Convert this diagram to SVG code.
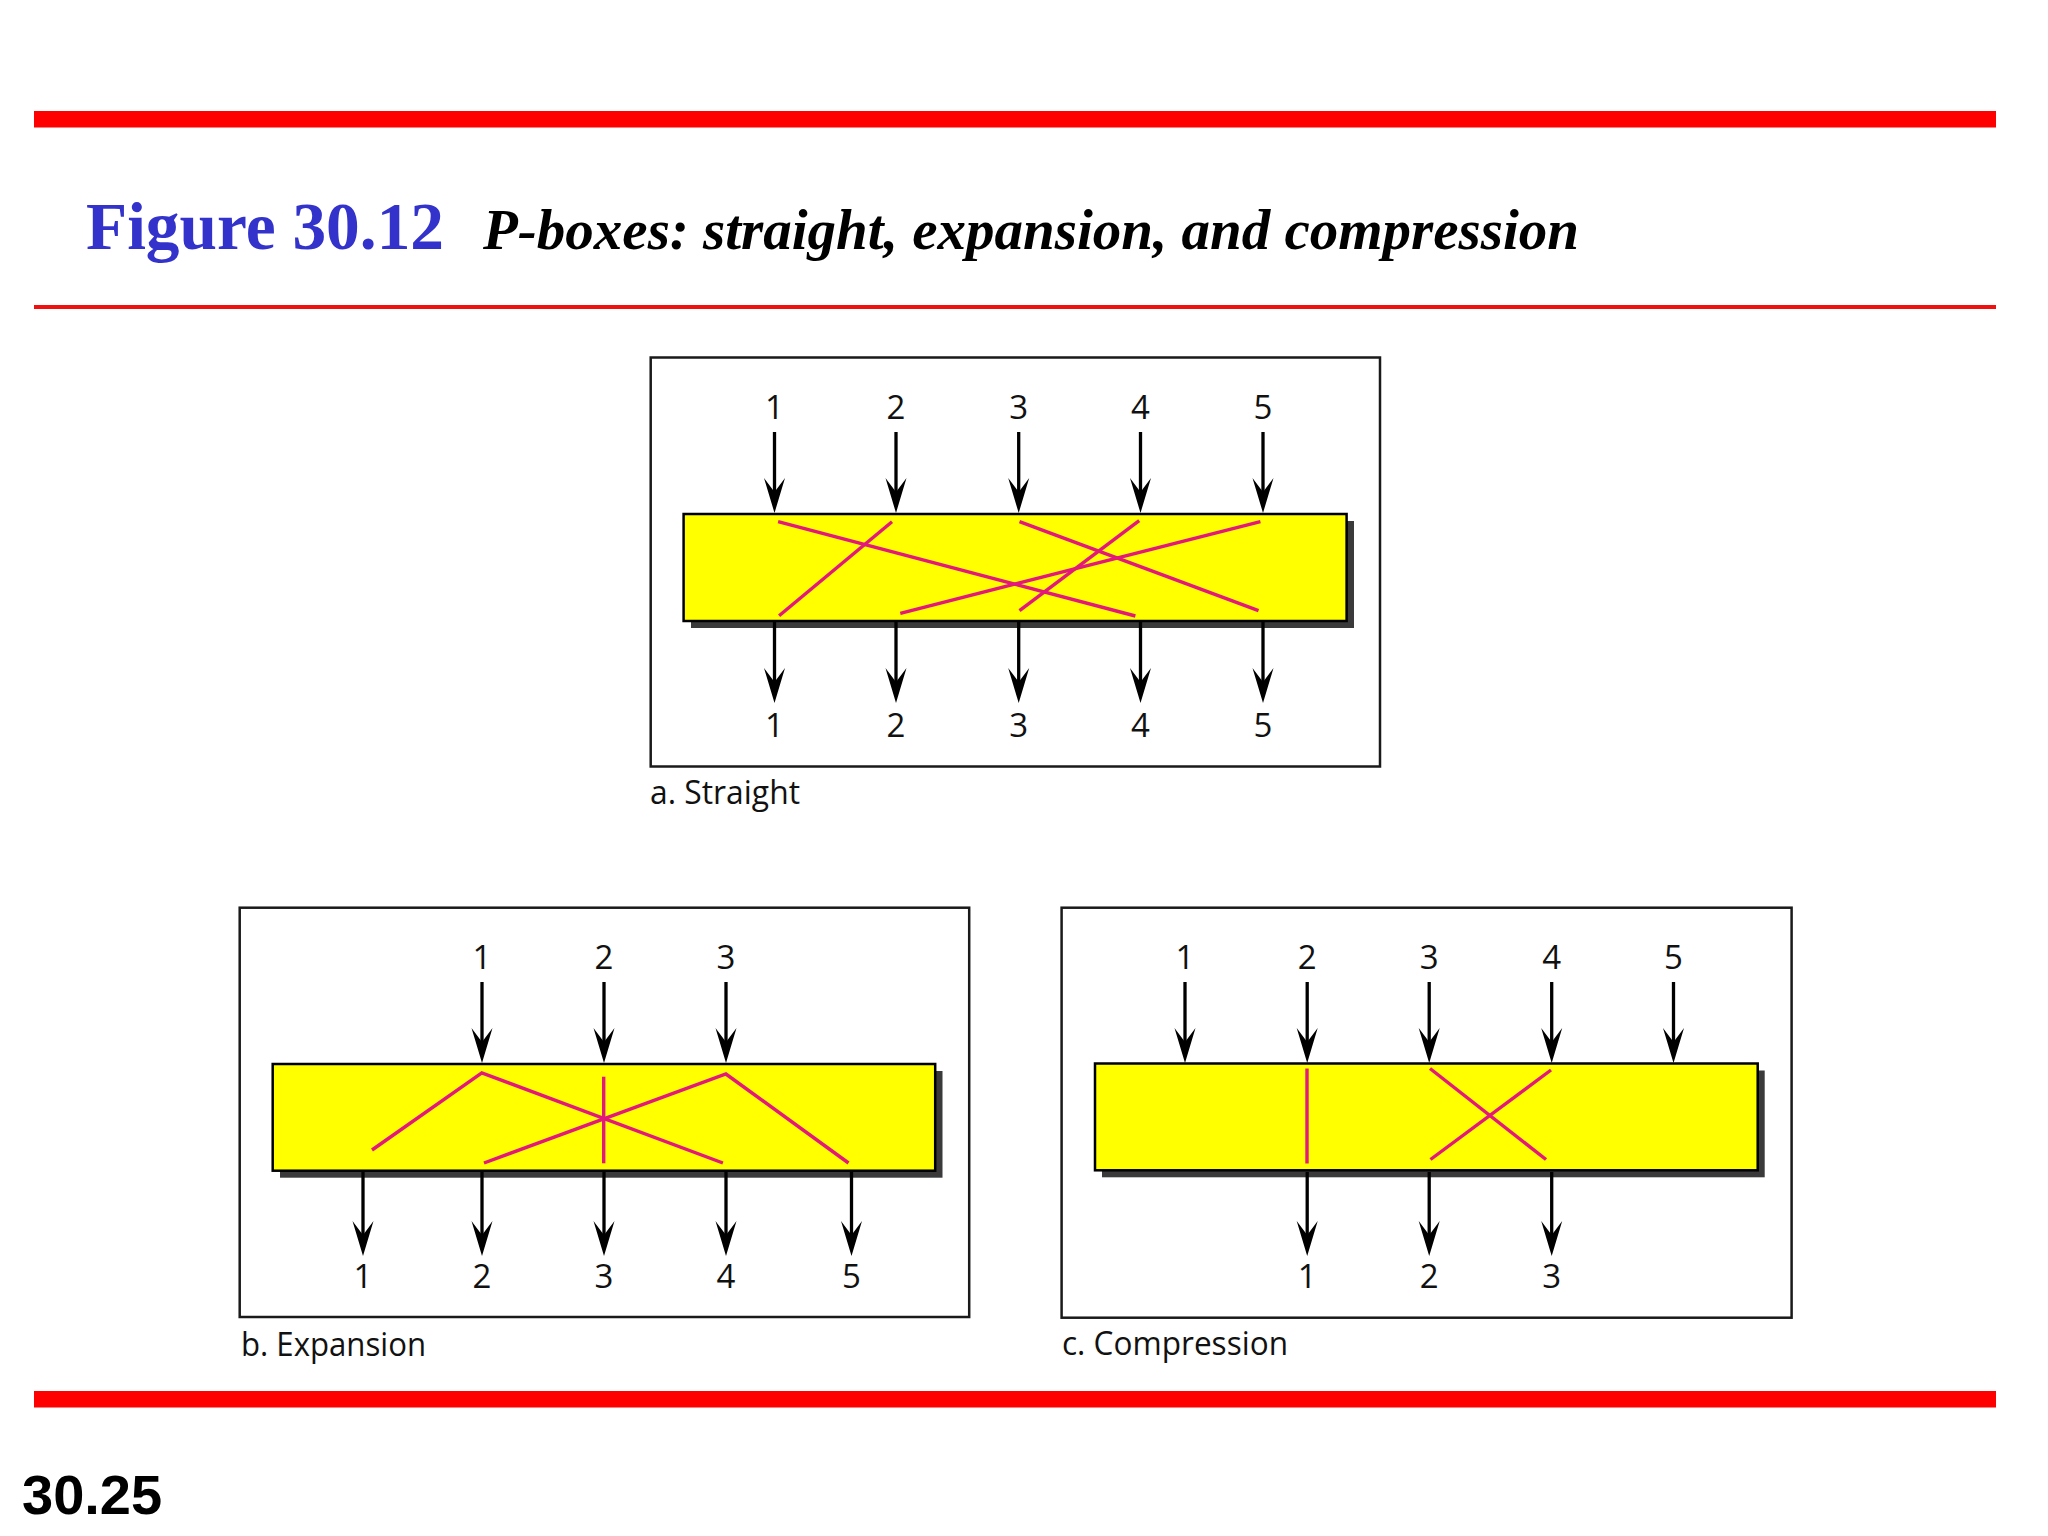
<svg xmlns="http://www.w3.org/2000/svg" width="2048" height="1536" viewBox="0 0 2048 1536">
<defs>
<style>
.bar{fill:#FF0000}
.frame{fill:none;stroke:#1a1a1a;stroke-width:2.5}
.shadow{fill:#3a3a3a}
.box{fill:#FFFF00;stroke:#000;stroke-width:2.5}
.wire{fill:none;stroke:#E2187A;stroke-width:3.4;stroke-linejoin:miter}
.arr{stroke:#000;stroke-width:3.3;fill:none;marker-end:url(#head)}
.num{font-family:"Open Sans","Liberation Sans",sans-serif;font-size:33px;fill:#111;text-anchor:middle}
.cap{font-family:"Open Sans","Liberation Sans",sans-serif;font-size:33px;fill:#111}
</style>
<marker id="head" viewBox="-24 -12 38 24" markerWidth="38" markerHeight="24" refX="0" refY="0" orient="auto" markerUnits="userSpaceOnUse">
<path d="M12,0 L-23,-10.5 L-9,0 L-23,10.5 Z" fill="#000"/>
</marker>
</defs>
<rect width="2048" height="1536" fill="#fff"/>
<g id="header">
<rect class="bar" x="34" y="111" width="1962" height="16.5"/>
<rect x="34" y="305" width="1962" height="4" fill="#F01010"/>
<text x="86" y="249" font-family="Liberation Serif,serif" font-weight="bold" font-size="67" fill="#3333CC" textLength="358" lengthAdjust="spacingAndGlyphs">Figure 30.12</text>
<text x="483" y="249" font-family="Liberation Serif,serif" font-weight="bold" font-style="italic" font-size="57" fill="#000" textLength="1096" lengthAdjust="spacingAndGlyphs">P-boxes: straight, expansion, and compression</text>
</g>
<g id="panel-a">
<rect class="frame" x="650.7" y="357.5" width="729.3" height="409"/>
<rect class="shadow" x="691" y="521" width="663" height="107"/>
<rect class="box" x="683.6" y="514" width="663" height="107"/>
<line class="wire" x1="778.1" y1="521.7" x2="1135.4" y2="616"/>
<line class="wire" x1="892" y1="521.7" x2="779.1" y2="615.7"/>
<line class="wire" x1="1019.5" y1="521.7" x2="1258.5" y2="610.7"/>
<line class="wire" x1="1139.2" y1="520.7" x2="1019.5" y2="610.7"/>
<line class="wire" x1="1260.4" y1="521.7" x2="900.3" y2="613.3"/>
<text class="num" x="774.5" y="419">1</text>
<text class="num" x="896" y="419">2</text>
<text class="num" x="1018.7" y="419">3</text>
<text class="num" x="1140.5" y="419">4</text>
<text class="num" x="1263" y="419">5</text>
<text class="num" x="774.5" y="737">1</text>
<text class="num" x="896" y="737">2</text>
<text class="num" x="1018.7" y="737">3</text>
<text class="num" x="1140.5" y="737">4</text>
<text class="num" x="1263" y="737">5</text>
<text class="cap" x="650" y="804" textLength="150" lengthAdjust="spacingAndGlyphs">a. Straight</text>
</g>
<g id="panel-b">
<rect class="frame" x="239.7" y="907.7" width="729.5" height="409.3"/>
<rect class="shadow" x="280" y="1071" width="662.5" height="106.7"/>
<rect class="box" x="272.7" y="1064" width="662.5" height="106.7"/>
<polyline class="wire" points="372,1150 481.8,1072.8 722.9,1163"/>
<polyline class="wire" points="484,1163 725.9,1074 848.5,1163"/>
<line class="wire" x1="603.7" y1="1076.7" x2="603.7" y2="1163.3"/>
<text class="num" x="482" y="968.5">1</text>
<text class="num" x="604" y="968.5">2</text>
<text class="num" x="726" y="968.5">3</text>
<text class="num" x="363" y="1288">1</text>
<text class="num" x="482" y="1288">2</text>
<text class="num" x="604" y="1288">3</text>
<text class="num" x="726" y="1288">4</text>
<text class="num" x="851.5" y="1288">5</text>
<text class="cap" x="241" y="1356" textLength="185" lengthAdjust="spacingAndGlyphs">b. Expansion</text>
</g>
<g id="panel-c">
<rect class="frame" x="1061.6" y="907.7" width="730" height="410"/>
<rect class="shadow" x="1102" y="1070.5" width="662.7" height="106.8"/>
<rect class="box" x="1095" y="1063.5" width="662.7" height="106.8"/>
<line class="wire" x1="1307" y1="1068.5" x2="1307" y2="1163.5"/>
<line class="wire" x1="1430" y1="1068.5" x2="1546" y2="1159.5"/>
<line class="wire" x1="1551" y1="1070" x2="1430.5" y2="1159.5"/>
<text class="num" x="1185" y="968.5">1</text>
<text class="num" x="1307.2" y="968.5">2</text>
<text class="num" x="1429.2" y="968.5">3</text>
<text class="num" x="1551.7" y="968.5">4</text>
<text class="num" x="1673.5" y="968.5">5</text>
<text class="num" x="1307.2" y="1288">1</text>
<text class="num" x="1429.2" y="1288">2</text>
<text class="num" x="1551.7" y="1288">3</text>
<text class="cap" x="1062" y="1355" textLength="226" lengthAdjust="spacingAndGlyphs">c. Compression</text>
</g>
<g id="connectors">
<line class="arr" x1="774.5" y1="432" x2="774.5" y2="501"/>
<line class="arr" x1="896" y1="432" x2="896" y2="501"/>
<line class="arr" x1="1018.7" y1="432" x2="1018.7" y2="501"/>
<line class="arr" x1="1140.5" y1="432" x2="1140.5" y2="501"/>
<line class="arr" x1="1263" y1="432" x2="1263" y2="501"/>
<line class="arr" x1="774.5" y1="622" x2="774.5" y2="691"/>
<line class="arr" x1="896" y1="622" x2="896" y2="691"/>
<line class="arr" x1="1018.7" y1="622" x2="1018.7" y2="691"/>
<line class="arr" x1="1140.5" y1="622" x2="1140.5" y2="691"/>
<line class="arr" x1="1263" y1="622" x2="1263" y2="691"/>
<line class="arr" x1="482" y1="982" x2="482" y2="1051"/>
<line class="arr" x1="604" y1="982" x2="604" y2="1051"/>
<line class="arr" x1="726" y1="982" x2="726" y2="1051"/>
<line class="arr" x1="363" y1="1172" x2="363" y2="1244"/>
<line class="arr" x1="482" y1="1172" x2="482" y2="1244"/>
<line class="arr" x1="604" y1="1172" x2="604" y2="1244"/>
<line class="arr" x1="726" y1="1172" x2="726" y2="1244"/>
<line class="arr" x1="851.5" y1="1172" x2="851.5" y2="1244"/>
<line class="arr" x1="1185" y1="982" x2="1185" y2="1051"/>
<line class="arr" x1="1307.2" y1="982" x2="1307.2" y2="1051"/>
<line class="arr" x1="1429.2" y1="982" x2="1429.2" y2="1051"/>
<line class="arr" x1="1551.7" y1="982" x2="1551.7" y2="1051"/>
<line class="arr" x1="1673.5" y1="982" x2="1673.5" y2="1051"/>
<line class="arr" x1="1307.2" y1="1172" x2="1307.2" y2="1244"/>
<line class="arr" x1="1429.2" y1="1172" x2="1429.2" y2="1244"/>
<line class="arr" x1="1551.7" y1="1172" x2="1551.7" y2="1244"/>
</g>
<g id="footer">
<rect class="bar" x="34" y="1391" width="1962" height="16.5"/>
<text x="22" y="1514" font-family="Liberation Sans,Arial,sans-serif" font-weight="bold" font-size="56" fill="#000">30.25</text>
</g>
</svg>
